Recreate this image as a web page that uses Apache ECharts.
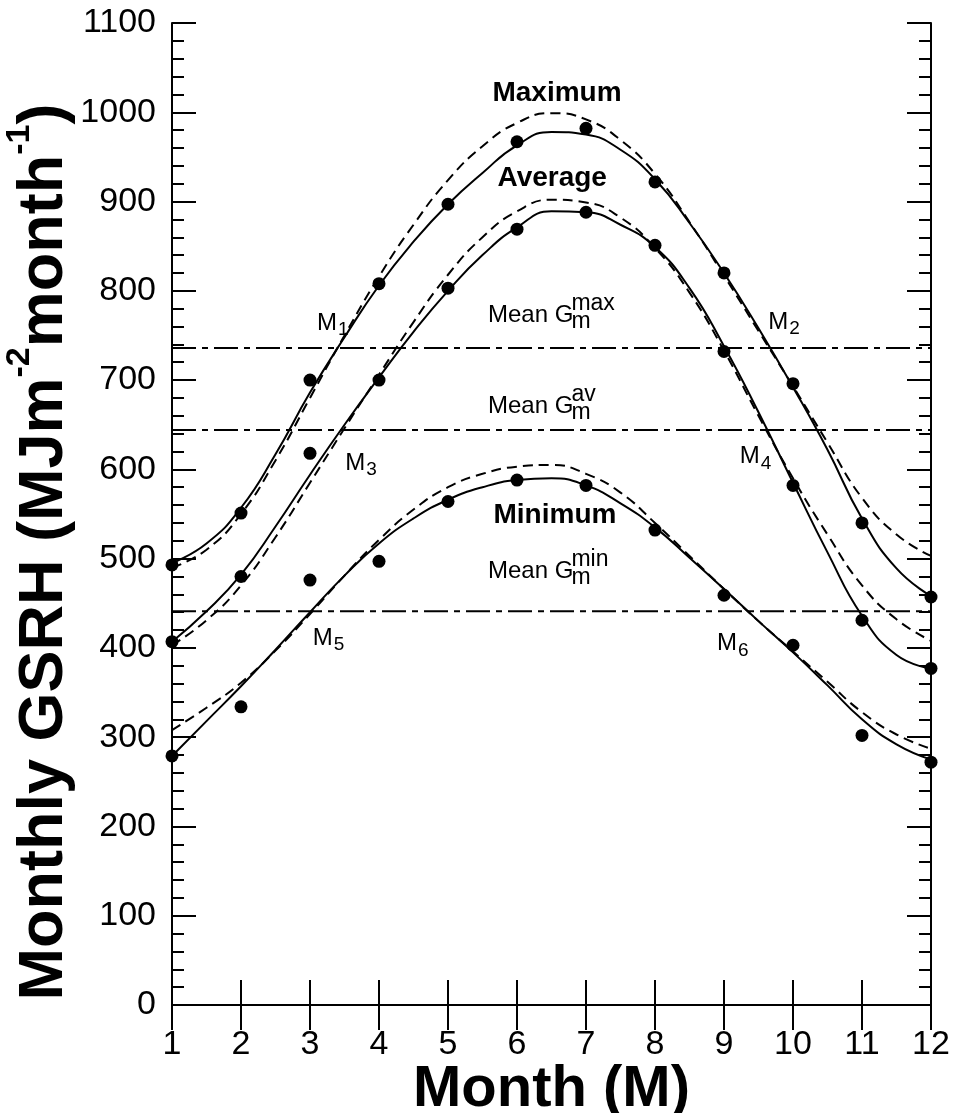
<!DOCTYPE html>
<html><head><meta charset="utf-8">
<script src="https://cdn.jsdelivr.net/npm/echarts@6/dist/echarts.min.js"></script>
<style>html,body{margin:0;padding:0;background:#fff}#c{width:955px;height:1113px}</style>
</head><body><div id="c"></div>
<script>
// ---------- data ----------
const months = [1,2,3,4,5,6,7,8,9,10,11,12];
const maxObserved = [493,551,700,808,897,967,982,922,820,696,540,457];
const avgObserved = [407,480,618,700,803,869,888,851,732,582,431,377];
const minObserved = [279,334,476,497,564,588,582,532,459,403,302,272];

const fitMonths = [1,1.5,2,2.5,3,3.5,4,4.5,5,5.5,6,6.5,7,7.5,8,8.5,9,9.5,10,10.5,11,11.5,12];
const maxSolidFit  = [495,517,557,617,686,748,806,855,897,932,963,978,975,958,925,876,820,758,692,622,545,489,458];
const maxDashedFit = [490,510,550,610,680,750,816,874,924,962,988,999,992,969,931,877,817,755,693,630,568,527,503];
const avgSolidFit  = [407,441,482,536,594,650,703,754,800,840,871,889,888,874,849,803,738,664,585,507,436,392,377];
const avgDashedFit = [403,431,470,524,585,646,706,765,818,860,889,902,899,882,848,798,733,660,590,527,470,432,408];
const minSolidFit  = [279,318,357,398,440,481,517,545,566,580,588,590,582,562,535,501,466,430,395,358,320,292,275];
const minDashedFit = [308,333,361,397,438,481,521,555,580,595,603,605,595,574,540,503,466,430,396,362,328,303,287];

const meanGmax = 736;
const meanGav = 644;
const meanGmin = 441;

const xTickValues = [1,2,3,4,5,6,7,8,9,10,11,12];
const yTickValues = [0,100,200,300,400,500,600,700,800,900,1000,1100];

// ---------- annotation layout (data coordinates) ----------
const curveTitles = [['Maximum',6.58,1021],['Average',6.51,926],['Minimum',6.55,549]];
const meanLabels = [['max',5.58,773],['av',5.58,671],['min',5.58,486]];
const crossLabels = [['1',3.10,764],['2',9.64,765],['3',3.51,607],['4',9.23,614],['5',3.04,411],['6',8.90,405]];

const FONT = '"Liberation Sans", Arial, Helvetica, sans-serif';
const pairs = (xs, ys) => xs.map((x,i)=>[x, ys[i]]);

function fitLine(name, ys, dashed){
  return {type:'line', name, data:pairs(fitMonths, ys), showSymbol:false, smooth:0.5,
    lineStyle:{color:'#000', width:2, type: dashed ? [10,6] : 'solid'}, z:3, silent:true};
}
function meanLine(name, v){
  return {type:'line', name, data:[[xTickValues[0], v],[xTickValues[xTickValues.length-1], v]], showSymbol:false,
    lineStyle:{color:'#000', width:2, type:[24,6,6,6]}, z:2, silent:true};
}
function obs(name, ys){
  return {type:'scatter', name, data:pairs(months, ys), symbol:'circle', symbolSize:13,
    itemStyle:{color:'#000', opacity:1}, z:10, silent:true};
}

const axisLineStyle = {show:true, lineStyle:{color:'#000', width:2}};
const xAxisBase = {type:'value', min:xTickValues[0], max:xTickValues[xTickValues.length-1], interval:1,
  axisLine:axisLineStyle, axisTick:{show:true, inside:true, length:25, lineStyle:{color:'#000', width:2}},
  splitLine:{show:false}, nameMoveOverlap:false};
const yAxisBase = {type:'value', min:yTickValues[0], max:yTickValues[yTickValues.length-1], interval:100,
  axisLine:axisLineStyle, axisTick:{show:true, inside:true, length:24, lineStyle:{color:'#000', width:2}},
  minorTick:{show:true, splitNumber:5, length:12, lineStyle:{color:'#000', width:2}},
  splitLine:{show:false}, minorSplitLine:{show:false}, nameMoveOverlap:false};

const option = {
  animation:false,
  backgroundColor:'#fff',
  grid:{left:172, right:24, top:23, bottom:108, containLabel:false, outerBoundsMode:'none'},
  xAxis:[
    Object.assign({}, xAxisBase, {position:'bottom',
      axisLabel:{show:true, fontSize:34, color:'#000', fontFamily:FONT, margin:23, formatter:v=>String(v)},
      name:'Month (M)', nameLocation:'middle', nameGap:56,
      nameTextStyle:{fontSize:58, fontWeight:'bold', color:'#000', fontFamily:FONT}}),
    Object.assign({}, xAxisBase, {position:'top', axisLabel:{show:false}})
  ],
  yAxis:[
    Object.assign({}, yAxisBase, {position:'left',
      axisLabel:{show:true, fontSize:34, color:'#000', fontFamily:FONT, margin:16, formatter:v=>String(v)},
      name:'Monthly GSRH (MJm{s|-2}month{s|-1})', nameLocation:'middle', nameRotate:90, nameGap:85,
      nameTextStyle:{fontSize:63, fontWeight:'bold', color:'#000', fontFamily:FONT, lineHeight:84,
        padding:[0,76,0,0],
        rich:{s:{fontSize:34, fontWeight:'bold', color:'#000', fontFamily:FONT, lineHeight:34, verticalAlign:'top'}}}}),
    Object.assign({}, yAxisBase, {position:'right', axisLabel:{show:false}})
  ],
  series:[
    meanLine('Mean Gmax', meanGmax),
    meanLine('Mean Gav', meanGav),
    meanLine('Mean Gmin', meanGmin),
    fitLine('Maximum fit', maxSolidFit, false),
    fitLine('Maximum fit (dashed)', maxDashedFit, true),
    fitLine('Average fit', avgSolidFit, false),
    fitLine('Average fit (dashed)', avgDashedFit, true),
    fitLine('Minimum fit', minSolidFit, false),
    fitLine('Minimum fit (dashed)', minDashedFit, true),
    obs('Maximum', maxObserved),
    obs('Average', avgObserved),
    obs('Minimum', minObserved)
  ]
};

const chart = echarts.init(document.getElementById('c'), null, {renderer:'canvas'});
chart.setOption(option);

const mctx = document.createElement('canvas').getContext('2d');
function tw(t, font){ mctx.font = font; return mctx.measureText(t).width; }
const px = (x,y) => chart.convertToPixel({gridIndex:0}, [x,y]);

const graphics = [];
const boldFont = 'bold 28px ' + FONT;
curveTitles.forEach(([t,x,y])=>{
  const p = px(x,y);
  graphics.push({type:'text', x:p[0], y:p[1], silent:true,
    style:{text:t, font:boldFont, fill:'#000', align:'center', verticalAlign:'middle'}});
});
const meanFont = '24px ' + FONT;
const supFont = '23px ' + FONT;
meanLabels.forEach(([sup,x,y])=>{
  const p = px(x,y);
  const w = tw('Mean G', meanFont);
  graphics.push({type:'text', x:p[0], y:p[1], silent:true,
    style:{text:'Mean G', font:meanFont, fill:'#000', align:'left', verticalAlign:'middle'}});
  graphics.push({type:'text', x:p[0]+w-2, y:p[1]-11, silent:true,
    style:{text:sup, font:supFont, fill:'#000', align:'left', verticalAlign:'middle'}});
  graphics.push({type:'text', x:p[0]+w-2, y:p[1]+7, silent:true,
    style:{text:'m', font:supFont, fill:'#000', align:'left', verticalAlign:'middle'}});
});
const mFont = '24px ' + FONT;
const subFont = '19px ' + FONT;
crossLabels.forEach(([d,x,y])=>{
  const p = px(x,y);
  const w = tw('M', mFont);
  graphics.push({type:'text', x:p[0], y:p[1], silent:true,
    style:{text:'M', font:mFont, fill:'#000', align:'left', verticalAlign:'middle'}});
  graphics.push({type:'text', x:p[0]+w+1, y:p[1]+7, silent:true,
    style:{text:d, font:subFont, fill:'#000', align:'left', verticalAlign:'middle'}});
});
chart.setOption({graphic:graphics});
</script>
</body></html>
